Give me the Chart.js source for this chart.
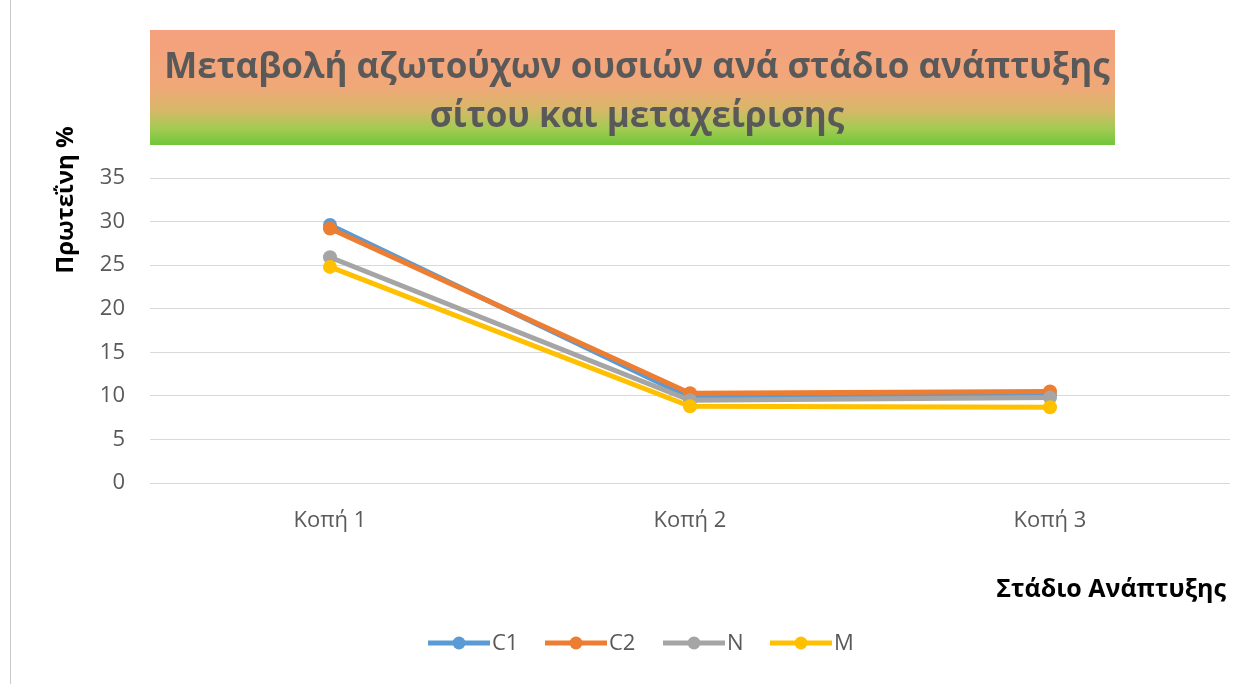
<!DOCTYPE html>
<html>
<head>
<meta charset="utf-8">
<script src="https://cdn.jsdelivr.net/npm/chart.js@4/dist/chart.umd.min.js"></script>
<style>
  html, body { margin: 0; padding: 0; background: #fff; }
  #wrap { width: 1254px; height: 684px; position: relative; }
</style>
</head>
<body>
<div id="wrap"><canvas id="chLine" width="1254" height="684"></canvas></div>
<script>
// data
var stages = ["Κοπή 1", "Κοπή 2", "Κοπή 3"];
var c1 = [29.6, 9.8, 10.1];
var c2 = [29.2, 10.3, 10.5];
var nn = [25.9, 9.5, 9.8];
var mm = [24.8, 8.8, 8.7];
var seriesNames = ["C1", "C2", "N", "M"];
var colors = ["#5b9bd5", "#ed7d31", "#a5a5a5", "#ffc000"];

var titleLines = ["Μεταβολή αζωτούχων ουσιών ανά στάδιο ανάπτυξης", "σίτου και μεταχείρισης"];
var yTitle = "Πρωτεΐνη %";
var xTitle = "Στάδιο Ανάπτυξης";

function mkSet(label, data, i) {
  return {
    label: label,
    data: data,
    borderColor: colors[i],
    backgroundColor: colors[i],
    borderWidth: 5,
    pointRadius: 7,
    pointHoverRadius: 7,
    pointBorderWidth: 0,
    tension: 0,
    order: 4 - i
  };
}

// title box, axis titles, legend, frame
var decor = {
  id: "decor",
  beforeDraw: function (chart) {
    var ctx = chart.ctx;
    ctx.save();
    ctx.fillStyle = "#fff";
    ctx.fillRect(0, 0, chart.width, chart.height);
    ctx.strokeStyle = "#c8c8c8";
    ctx.lineWidth = 1;
    ctx.beginPath();
    ctx.moveTo(10.5, 0);
    ctx.lineTo(10.5, chart.height);
    ctx.stroke();

    // gradient title box
    var g = ctx.createLinearGradient(0, 30, 0, 145);
    g.addColorStop(0, "#f5a07e");
    g.addColorStop(0.5, "#f0a878");
    g.addColorStop(0.7, "#d6b868");
    g.addColorStop(0.86, "#a2cb52");
    g.addColorStop(1, "#70c63a");
    ctx.fillStyle = g;
    ctx.fillRect(150, 30, 965, 115);
    ctx.restore();
  },
  afterDraw: function (chart) {
    var ctx = chart.ctx;
    ctx.save();
    ctx.fillStyle = "#595959";
    ctx.textAlign = "center";
    ctx.textBaseline = "middle";
    var fs = 34;
    ctx.font = "bold " + fs + "px 'Open Sans'";
    var w = ctx.measureText(titleLines[0]).width;
    fs = fs * 945 / w;
    ctx.font = "bold " + fs.toFixed(1) + "px 'Open Sans'";
    ctx.fillText(titleLines[0], 637, 68);
    ctx.fillText(titleLines[1], 637, 117);

    // axis titles
    ctx.fillStyle = "#000";
    ctx.font = "bold 24px 'Open Sans'";
    ctx.save();
    ctx.translate(66, 200);
    ctx.rotate(-Math.PI / 2);
    ctx.fillText(yTitle, 0, 0);
    ctx.restore();
    ctx.textAlign = "right";
    ctx.font = "bold 25px 'Open Sans'";
    ctx.fillText(xTitle, 1226, 590);

    // legend
    var xs = [428, 545, 663, 770];
    var ly = 643;
    ctx.font = "22px 'Open Sans'";
    ctx.textAlign = "left";
    for (var i = 0; i < seriesNames.length; i++) {
      ctx.strokeStyle = colors[i];
      ctx.fillStyle = colors[i];
      ctx.lineWidth = 5;
      ctx.beginPath();
      ctx.moveTo(xs[i], ly);
      ctx.lineTo(xs[i] + 62, ly);
      ctx.stroke();
      ctx.beginPath();
      ctx.arc(xs[i] + 31, ly, 6.5, 0, Math.PI * 2);
      ctx.fill();
      ctx.fillStyle = "#595959";
      ctx.fillText(seriesNames[i], xs[i] + 64, ly + 1);
    }
    ctx.restore();
  }
};

var chLine = document.getElementById("chLine");
new Chart(chLine, {
  type: "line",
  data: {
    labels: stages,
    datasets: [mkSet("C1", c1, 0), mkSet("C2", c2, 1), mkSet("N", nn, 2), mkSet("M", mm, 3)]
  },
  options: {
    responsive: false,
    animation: false,
    devicePixelRatio: 1,
    layout: { padding: { top: 178, right: 24, left: 0, bottom: 0 } },
    plugins: { legend: { display: false }, title: { display: false }, tooltip: { enabled: false } },
    scales: {
      x: {
        offset: true,
        grid: { display: false, drawTicks: false },
        border: { display: false },
        ticks: { color: "#595959", font: { family: "'Open Sans'", size: 22 }, padding: 25 },
        afterFit: function (s) { s.height = 201; }
      },
      y: {
        min: 0,
        max: 35,
        ticks: { stepSize: 5, color: "#595959", font: { family: "'Open Sans'", size: 22 }, padding: 25 },
        grid: { color: "#d9d9d9", lineWidth: 1, drawTicks: false },
        border: { display: false },
        afterFit: function (s) { s.width = 150; }
      }
    }
  },
  plugins: [decor]
});
</script>
</body>
</html>
